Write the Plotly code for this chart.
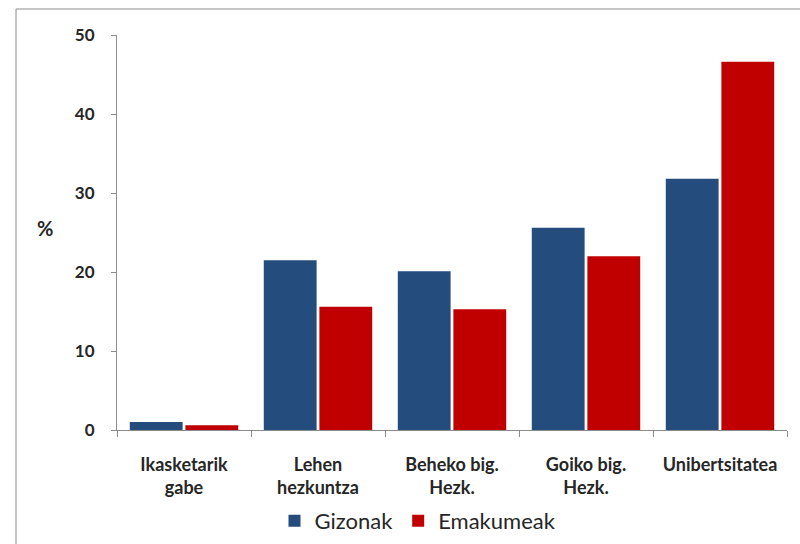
import plotly.graph_objects as go

categories = ["Ikasketarik<br>gabe", "Lehen<br>hezkuntza", "Beheko big.<br>Hezk.", "Goiko big.<br>Hezk.", "Unibertsitatea"]
gizonak = [1.0, 21.5, 20.1, 25.6, 31.8]
emakumeak = [0.6, 15.6, 15.3, 22.0, 46.6]
y_ticks = [0, 10, 20, 30, 40, 50]

FONT = "Lato, Liberation Sans, Arial"
TXT = "#262626"

fig = go.Figure()
fig.add_trace(go.Bar(x=categories, y=gizonak, name="Gizonak", marker_color="#244C7C", marker_line_width=0))
fig.add_trace(go.Bar(x=categories, y=emakumeak, name="Emakumeak", marker_color="#C00000", marker_line_width=0))

W, H = 800, 544
ml, mr, mt, mb = 117, 13, 35, 114
pw, ph = W - ml - mr, H - mt - mb

fig.update_layout(
    width=W, height=H,
    margin=dict(l=ml, r=mr, t=mt, b=mb, autoexpand=False),
    paper_bgcolor="white", plot_bgcolor="white",
    barmode="group", bargap=0.17, bargroupgap=0.05,
    font=dict(family=FONT, color=TXT),
    showlegend=True,
    legend=dict(orientation="h", x=(418 - ml) / pw, xanchor="center", y=(H - 521 - mb) / ph, yanchor="middle",
                font=dict(size=22, family=FONT, color=TXT), itemwidth=30, traceorder="normal",
                bgcolor="rgba(0,0,0,0)"),
    xaxis=dict(showline=True, linecolor="#8c8c8c", linewidth=1, ticks="outside", tickson="boundaries",
               ticklen=6, tickcolor="#8c8c8c", tickfont=dict(size=18, family=FONT, color=TXT),
               ticklabelstandoff=18, showgrid=False, automargin=False),
    yaxis=dict(range=[0, 50], tickvals=y_ticks, showline=True, linecolor="#8c8c8c", linewidth=1,
               ticks="outside", ticklen=5, tickcolor="#8c8c8c", showgrid=False, zeroline=False,
               tickfont=dict(size=17, family=FONT, color=TXT), ticklabelstandoff=13, automargin=False),
    shapes=[dict(type="rect", xref="paper", yref="paper",
                 x0=(16 - ml) / pw, x1=(W + 5 - ml) / pw,
                 y0=(H - (H + 5) - mb) / ph, y1=(H - 9 - mb) / ph,
                 line=dict(color="#8c8c8c", width=1), fillcolor="rgba(0,0,0,0)", layer="below")],
    annotations=[dict(text="<b>%</b>", xref="paper", yref="paper", x=(45 - ml) / pw, y=(H - 228 - mb) / ph,
                      showarrow=False, font=dict(size=20, family=FONT, color=TXT),
                      xanchor="center", yanchor="middle")],
)

fig.update_xaxes(tickvals=categories, ticktext=["<b>" + c.replace("<br>", "</b><br><b>") + "</b>" for c in categories])
fig.update_yaxes(ticktext=["<b>%d</b>" % v for v in y_ticks])

fig.write_html("out.html")
